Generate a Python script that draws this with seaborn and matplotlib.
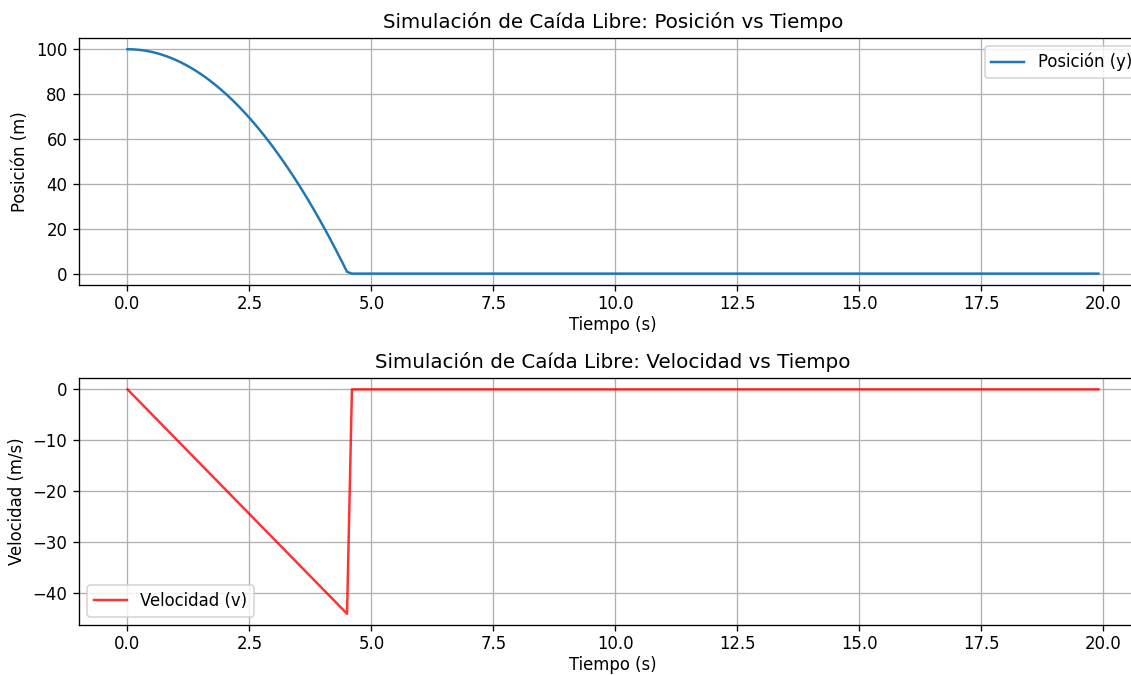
import pandas as pd
import seaborn as sns
import matplotlib.pyplot as plt

# Valores (caida libre desde 100 m)
tiempo_pos = [0.0, 0.1, 0.2, 0.3, 0.4, 0.5, 0.6, 0.7, 0.8, 0.9,
              1.0, 1.1, 1.2, 1.3, 1.4, 1.5, 1.6, 1.7, 1.8, 1.9,
              2.0, 2.1, 2.2, 2.3, 2.4, 2.5, 2.6, 2.7, 2.8, 2.9,
              3.0, 3.1, 3.2, 3.3, 3.4, 3.5, 3.6, 3.7, 3.8, 3.9,
              4.0, 4.1, 4.2, 4.3, 4.4, 4.5, 4.6, 19.9]
posicion = [100.0, 99.95, 99.80, 99.56, 99.22, 98.78, 98.24, 97.60, 96.86, 96.03,
            95.10, 94.07, 92.94, 91.72, 90.40, 88.98, 87.46, 85.84, 84.12, 82.31,
            80.40, 78.39, 76.28, 74.08, 71.78, 69.38, 66.88, 64.28, 61.58, 58.79,
            55.90, 52.91, 49.82, 46.64, 43.36, 39.98, 36.50, 32.92, 29.24, 25.47,
            21.60, 17.63, 13.56, 9.40, 5.14, 0.78, 0.0, 0.0]

tiempo_vel = [0.0, 4.5, 4.6, 19.9]
velocidad = [0.0, -44.1, 0.0, 0.0]

df_pos = pd.DataFrame({'Tiempo': tiempo_pos, 'Posicion': posicion})
df_vel = pd.DataFrame({'Tiempo': tiempo_vel, 'Velocidad': velocidad})

fig, (ax1, ax2) = plt.subplots(2, 1, figsize=(1131 / 119, 675 / 119), dpi=119)

# Posicion
sns.lineplot(data=df_pos, x='Tiempo', y='Posicion', ax=ax1, color='#1f77b4',
             label='Posición (y)', estimator=None, sort=False)
ax1.set_title('Simulación de Caída Libre: Posición vs Tiempo')
ax1.set_xlabel('Tiempo (s)', labelpad=2)
ax1.set_ylabel('Posición (m)')
ax1.grid(True)
ax1.legend(loc='upper right')

# Velocidad
sns.lineplot(data=df_vel, x='Tiempo', y='Velocidad', ax=ax2, color='red', alpha=0.8,
             label='Velocidad (v)', estimator=None, sort=False)
ax2.set_title('Simulación de Caída Libre: Velocidad vs Tiempo')
ax2.set_xlabel('Tiempo (s)', labelpad=2)
ax2.set_ylabel('Velocidad (m/s)')
ax2.grid(True)
ax2.legend(loc='lower left')

for ax in (ax1, ax2):
    ax.tick_params(axis='x', pad=2.5)

# la imagen original esta recortada por la derecha
plt.subplots_adjust(left=0.0698, right=1.0141, top=0.9437, bottom=0.0741, hspace=0.378)
plt.savefig('out.png', dpi=119)
